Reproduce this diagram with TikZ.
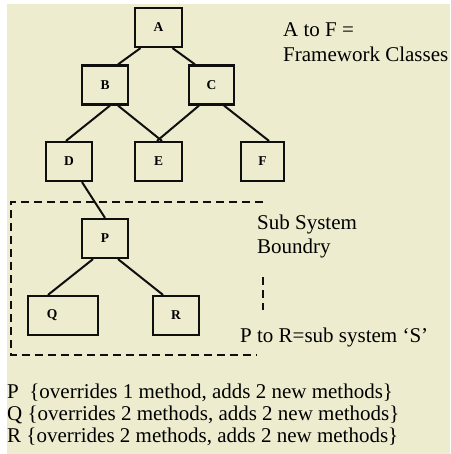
\documentclass[tikz,border=0pt]{standalone}
\usepackage{fontspec}
\setmainfont{Liberation Serif}
\definecolor{paper}{RGB}{238,236,206}
\definecolor{ink}{RGB}{15,15,15}
\begin{document}
\begin{tikzpicture}[x=1pt,y=-1pt,
  classbox/.style={draw=ink, line width=2.2pt, minimum height=39pt,
    inner sep=0pt, font=\fontsize{13.5}{15}\selectfont\bfseries},
  tag/.style={inner sep=0pt, font=\fontsize{13.5}{15}\selectfont\bfseries},
  link/.style={draw=ink, line width=2pt},
  boundary/.style={draw=ink, line width=2pt, dash pattern=on 8pt off 5pt},
  note/.style={anchor=base west, inner sep=0pt,
    font=\fontsize{21}{24.5}\selectfont}]
  % page and paper
  \useasboundingbox (0,0) rectangle (450,454);
  \fill[white] (0,0) rectangle (450,454);
  \fill[paper] (7,4) rectangle (450,454);

  % framework classes
  \node[classbox, minimum width=47pt] (A) at (158.5,27.5) {A};
  \node[classbox, minimum width=46pt] (B) at (105,85) {B};
  \node[classbox, minimum width=45pt] (C) at (211.5,85) {C};
  \node[classbox, minimum width=46pt] (D) at (69,161.5) {D};
  \node[classbox, minimum width=47pt] (E) at (158.5,161.5) {E};
  \node[classbox, minimum width=43pt] (F) at (262.5,161.5) {F};

  % sub system classes
  \node[classbox, minimum width=46pt] (P) at (105,238.5) {P};
  \node[classbox, minimum width=70pt] (Q) at (63,315.5) {};
  \node[tag] (Qtag) at (52,315.5) {Q};
  \node[classbox, minimum width=46pt] (R) at (176,315.5) {R};

  % inheritance links
  \draw[link] ([xshift=-18pt]A.south) -- ([xshift=13pt]B.north);
  \draw[link] ([xshift=14pt]A.south) -- ([xshift=-16.5pt]C.north);
  \draw[link] ([xshift=5pt]B.south) -- ([xshift=-3pt]D.north);
  \draw[link] ([xshift=13pt]B.south) -- ([xshift=3.5pt]E.north);
  \draw[link] ([xshift=-12.5pt]C.south) -- ([xshift=-1.5pt]E.north);
  \draw[link] ([xshift=12.5pt]C.south) -- ([xshift=6.5pt]F.north);
  \draw[link] ([xshift=13pt]D.south) -- (P.north);
  \draw[link] ([xshift=-12pt]P.south) -- ([xshift=-15pt]Q.north);
  \draw[link] ([xshift=13pt]P.south) -- ([xshift=-13pt]R.north);

  % sub system boundary
  \draw[boundary] (263,202) -- (11,202) -- (11,355) -- (257,355);
  \draw[boundary] (263,277) -- (263,310);

  % notes
  \node[note] (fw1) at (283,37) {A to F =};
  \node[note] (fw2) at (283,62) {Framework Classes};
  \node[note] (sb1) at (257,229) {Sub System};
  \node[note] (sb2) at (257,253) {Boundry};
  \node[note] (ss) at (240,342) {P to R=sub system ‘S’};
  \node[note] (lp) at (7,398) {P\ \ \{overrides 1 method, adds 2 new methods\}};
  \node[note] (lq) at (7,420) {Q \{overrides 2 methods, adds 2 new methods\}};
  \node[note] (lr) at (7,442) {R \{overrides 2 methods, adds 2 new methods\}};
\end{tikzpicture}
\end{document}
